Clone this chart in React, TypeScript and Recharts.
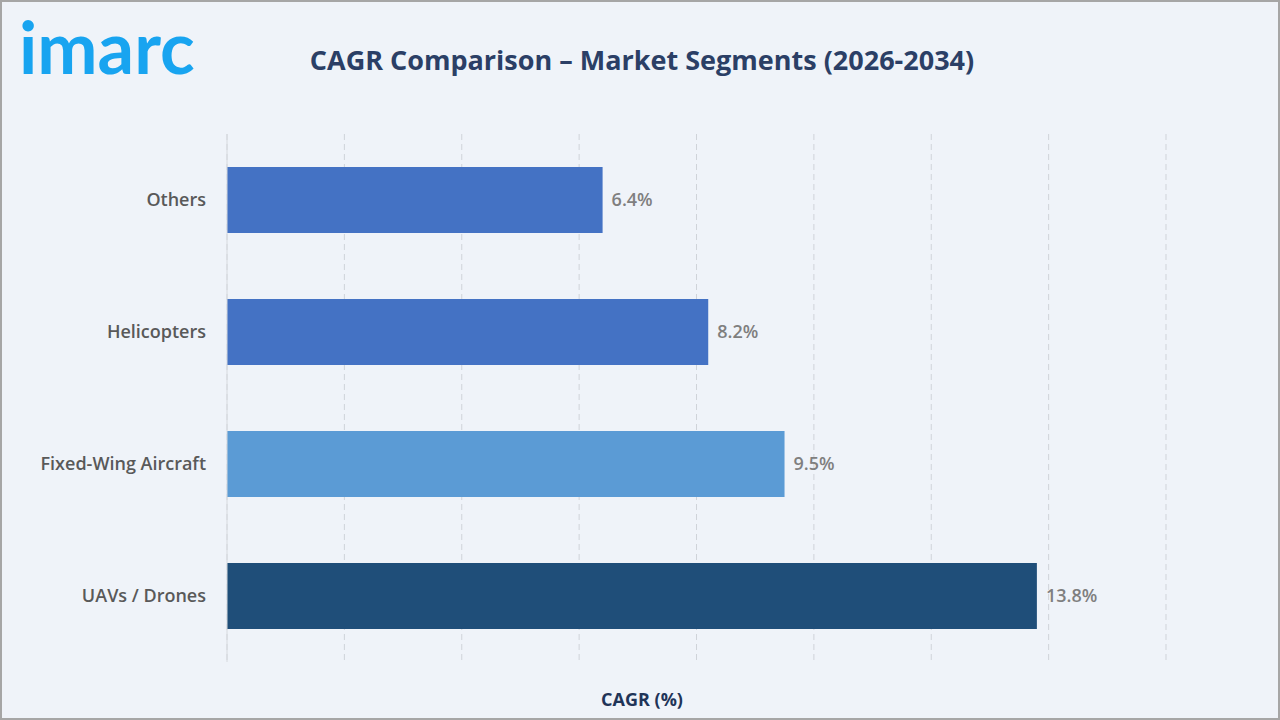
import { BarChart, Bar, XAxis, YAxis, CartesianGrid, Cell, LabelList } from 'recharts'

const segments = ['Others', 'Helicopters', 'Fixed-Wing Aircraft', 'UAVs / Drones']
const cagr = [6.4, 8.2, 9.5, 13.8]
const barColors = ['#4472c4', '#4472c4', '#5b9bd5', '#1f4e79']
const xTicks = [0, 2, 4, 6, 8, 10, 12, 14, 16]

const data = segments.map((name, i) => ({ name, value: cagr[i] }))

const font = '"Open Sans", "Liberation Sans", sans-serif'

export default function App() {
  return (
    <div
      style={{
        position: 'absolute',
        top: 0,
        left: 0,
        width: 1280,
        height: 720,
        boxSizing: 'border-box',
        border: '2px solid #a6a6a6',
        background: '#eff3f9',
        fontFamily: font,
        overflow: 'hidden',
      }}
    >
      {/* logo */}
      <div
        style={{
          position: 'absolute',
          left: 17,
          top: 8,
          fontFamily: '"Lato", sans-serif',
          fontWeight: 700,
          fontSize: 72,
          letterSpacing: 0,
          color: '#18a4f0',
          lineHeight: 1,
        }}
      >
        imarc
      </div>
      <div
        style={{
          position: 'absolute',
          left: 0,
          width: 1280,
          top: 40,
          textAlign: 'center',
          fontSize: 27,
          fontWeight: 700,
          color: '#2b3f66',
          lineHeight: '36px',
        }}
      >
        CAGR Comparison – Market Segments (2026-2034)
      </div>
      <div
        style={{
          position: 'absolute',
          left: 0,
          width: 1280,
          top: 684,
          textAlign: 'center',
          fontSize: 18,
          fontWeight: 700,
          color: '#1f3458',
          lineHeight: '26px',
        }}
      >
        CAGR (%)
      </div>
      <div style={{ position: 'absolute', top: -2, left: -2 }}>
        <BarChart
          width={1280}
          height={720}
          data={data}
          layout="vertical"
          margin={{ top: 134, right: 114, left: 27, bottom: 0 }}
          barSize={66}
        >
          <CartesianGrid horizontal={false} stroke="#cfd3d9" strokeDasharray="6 4" />
          <XAxis
            type="number"
            domain={[0, 16]}
            ticks={xTicks}
            interval={0}
            tick={() => <g />}
            tickLine={false}
            axisLine={false}
            height={58}
          />
          <YAxis
            type="category"
            dataKey="name"
            width={200}
            tickLine={false}
            axisLine={{ stroke: '#d6d9de' }}
            tickMargin={15}
            tick={{ fill: '#595959', fontSize: 18, fontWeight: 600, fontFamily: font }}
          />
          <Bar dataKey="value" fill="#4472c4" isAnimationActive={false}>
            <LabelList
              dataKey="value"
              position="right"
              offset={9}
              formatter={(v: number) => `${v}%`}
              style={{ fill: '#7f7f7f', fontSize: 18, fontWeight: 600, fontFamily: font }}
            />
            {data.map((_, i) => (
              <Cell key={i} fill={barColors[i]} />
            ))}
          </Bar>
        </BarChart>
      </div>
    </div>
  )
}
